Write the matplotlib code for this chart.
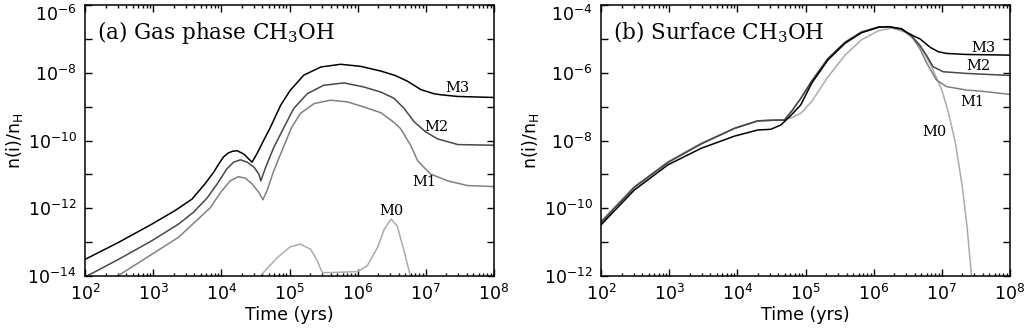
import numpy as np
import matplotlib
matplotlib.use('Agg')
import matplotlib.pyplot as plt
from matplotlib.ticker import FixedLocator, LogLocator, NullFormatter, FuncFormatter

plt.rcParams['font.family'] = 'DejaVu Sans'
plt.rcParams['mathtext.fontset'] = 'dejavusans'

# ---- data: log10(time/yr) and log10(n(i)/n_H) ----
# (a) gas phase CH3OH
gas_m3_t = [2.0, 2.49, 2.98, 3.32, 3.57, 3.76, 3.89, 3.96, 4.03, 4.1, 4.16, 4.23, 4.33, 4.40, 4.45,
            4.52, 4.62, 4.72, 4.87, 5.01, 5.21, 5.46, 5.75, 6.04, 6.34, 6.55, 6.73, 6.93, 7.12, 7.22,
            7.47, 8.0]
gas_m3_n = [-13.51, -13.01, -12.47, -12.07, -11.73, -11.28, -10.93, -10.7, -10.49, -10.37, -10.32,
            -10.30, -10.40, -10.54, -10.64, -10.40, -10.0, -9.61, -8.96, -8.52, -8.07, -7.83, -7.75,
            -7.81, -7.95, -8.08, -8.25, -8.50, -8.62, -8.65, -8.70, -8.73]

gas_m2_t = [2.0, 2.49, 2.98, 3.37, 3.59, 3.79, 3.94, 4.08, 4.18, 4.28, 4.38, 4.48, 4.55, 4.58, 4.65,
            4.77, 4.92, 5.06, 5.26, 5.50, 5.80, 6.09, 6.34, 6.53, 6.68, 6.83, 7.0, 7.17, 7.47, 8.0]
gas_m2_n = [-14.03, -13.51, -12.96, -12.47, -12.12, -11.70, -11.28, -10.84, -10.64, -10.57, -10.64,
            -10.79, -10.99, -11.19, -10.79, -10.20, -9.61, -9.06, -8.62, -8.37, -8.30, -8.42, -8.57,
            -8.75, -9.05, -9.45, -9.75, -9.95, -10.12, -10.14]

gas_m1_t = [2.44, 2.98, 3.37, 3.67, 3.84, 3.99, 4.13, 4.25, 4.35, 4.45, 4.55, 4.61, 4.67, 4.77,
            4.92, 5.03, 5.16, 5.36, 5.60, 5.85, 6.09, 6.34, 6.53, 6.63, 6.78, 6.88, 7.07, 7.32,
            7.61, 8.0]
gas_m1_n = [-14.05, -13.36, -12.86, -12.3, -11.98, -11.53, -11.19, -11.07, -11.11, -11.28, -11.53,
            -11.75, -11.48, -10.89, -10.15, -9.62, -9.2, -8.91, -8.81, -8.86, -9.01, -9.18, -9.46,
            -9.65, -10.15, -10.6, -10.99, -11.19, -11.33, -11.36]

gas_m0_t = [4.57, 4.82, 5.01, 5.16, 5.31, 5.41, 5.48, 5.60, 6.0, 6.14, 6.29, 6.39, 6.49, 6.58, 6.68,
            6.78]
gas_m0_n = [-14.0, -13.46, -13.14, -13.06, -13.21, -13.56, -13.90, -13.90, -13.87, -13.70, -13.16,
            -12.62, -12.32, -12.52, -13.26, -14.05]

# (b) surface CH3OH
srf_m3_t = [2.0, 2.49, 2.98, 3.47, 3.96, 4.30, 4.49, 4.64, 4.79, 4.93, 5.09, 5.33, 5.58, 5.82, 6.07,
            6.22, 6.41, 6.48, 6.61, 6.68, 6.83, 6.95, 7.07, 7.36, 8.0]
srf_m3_n = [-10.49, -9.46, -8.72, -8.23, -7.87, -7.69, -7.67, -7.54, -7.25, -6.95, -6.31, -5.62,
            -5.13, -4.82, -4.66, -4.64, -4.70, -4.80, -4.94, -5.0, -5.25, -5.38, -5.43, -5.46, -5.48]

srf_m2_t = [2.0, 2.49, 2.98, 3.47, 3.96, 4.30, 4.54, 4.69, 4.81, 4.93, 5.09, 5.33, 5.58, 5.82, 6.07,
            6.22, 6.41, 6.55, 6.68, 6.78, 6.87, 7.02, 7.36, 8.0]
srf_m2_n = [-10.42, -9.38, -8.65, -8.10, -7.64, -7.42, -7.40, -7.40, -7.10, -6.76, -6.25, -5.58,
            -5.10, -4.80, -4.65, -4.64, -4.72, -4.90, -5.2, -5.5, -5.82, -5.97, -6.02, -6.08]

srf_m1_t = [2.0, 2.49, 2.98, 3.47, 3.96, 4.30, 4.54, 4.69, 4.81, 4.93, 5.09, 5.33, 5.58, 5.82, 6.07,
            6.22, 6.41, 6.55, 6.68, 6.78, 6.92, 7.07, 7.36, 7.66, 8.0]
srf_m1_n = [-10.42, -9.38, -8.65, -8.10, -7.64, -7.42, -7.40, -7.40, -7.10, -6.76, -6.25, -5.58,
            -5.10, -4.80, -4.65, -4.64, -4.72, -4.90, -5.3, -5.72, -6.21, -6.41, -6.51, -6.56, -6.64]

srf_m0_t = [2.0, 2.49, 2.98, 3.47, 3.96, 4.30, 4.54, 4.69, 4.81, 4.93, 5.09, 5.33, 5.58, 5.82, 6.07,
            6.27, 6.46, 6.66, 6.85, 7.0, 7.1, 7.2, 7.3, 7.37, 7.44]
srf_m0_n = [-10.38, -9.36, -8.63, -8.08, -7.64, -7.42, -7.40, -7.38, -7.32, -7.20, -6.85, -6.12,
            -5.48, -5.03, -4.76, -4.68, -4.80, -5.13, -5.82, -6.51, -7.2, -8.08, -9.36, -10.55, -12.1]

model_names = ['M3', 'M2', 'M1', 'M0']
colors = ['#000000', '#484848', '#808080', '#ababab']

gas_label_pos = [(7.47, -8.44), (7.15, -9.59), (6.98, -11.23), (6.50, -12.09)]
srf_label_pos = [(7.61, -5.28), (7.54, -5.80), (7.45, -6.85), (6.89, -7.74)]

panels = [
    dict(title='(a) Gas phase CH$_3$OH', ylim=(-14, -6),
         series=[(gas_m3_t, gas_m3_n), (gas_m2_t, gas_m2_n), (gas_m1_t, gas_m1_n), (gas_m0_t, gas_m0_n)],
         labels=gas_label_pos, left=85),
    dict(title='(b) Surface CH$_3$OH', ylim=(-12, -4),
         series=[(srf_m3_t, srf_m3_n), (srf_m2_t, srf_m2_n), (srf_m1_t, srf_m1_n), (srf_m0_t, srf_m0_n)],
         labels=srf_label_pos, left=601),
]

W, H = 1025, 330
fig = plt.figure(figsize=(W / 100, H / 100), dpi=100)


def fmt(v, pos):
    e = int(round(np.log10(v)))
    return r'$10^{%d}$' % e


for p in panels:
    ax = fig.add_axes([p['left'] / W, 54 / H, 409 / W, 271 / H])
    # draw lightest first so the dark curves sit on top
    for (t, n), c in reversed(list(zip(p['series'], colors))):
        ax.plot(10 ** np.array(t), 10 ** np.array(n), color=c, lw=1.1,
                solid_joinstyle='round')
    for (lx, ly), name in zip(p['labels'], model_names):
        ax.text(10 ** lx, 10 ** ly, name, family='DejaVu Serif', fontsize=10.5,
                ha='center', va='center')
    ax.set_xscale('log')
    ax.set_yscale('log')
    ax.set_xlim(1e2, 1e8)
    lo, hi = p['ylim']
    ax.set_ylim(10.0 ** lo, 10.0 ** hi)

    ax.xaxis.set_major_locator(FixedLocator([10.0 ** k for k in range(2, 9)]))
    ax.xaxis.set_minor_locator(LogLocator(base=10, subs=np.arange(2, 10), numticks=20))
    ax.xaxis.set_major_formatter(FuncFormatter(fmt))
    ax.xaxis.set_minor_formatter(NullFormatter())
    ax.yaxis.set_major_locator(FixedLocator([10.0 ** k for k in range(lo, hi + 1, 2)]))
    ax.yaxis.set_minor_locator(FixedLocator([10.0 ** k for k in range(lo + 1, hi, 2)]))
    ax.yaxis.set_major_formatter(FuncFormatter(fmt))
    ax.yaxis.set_minor_formatter(NullFormatter())

    ax.tick_params(which='both', direction='in', top=True, right=True, labelsize=12.5, width=1)
    ax.tick_params(which='major', length=5, pad=6)
    ax.tick_params(axis='x', which='minor', length=2.5)
    ax.tick_params(axis='y', which='minor', length=5)
    for s in ax.spines.values():
        s.set_linewidth(1.1)

    # keep the top y label inside the figure
    ax.yaxis.get_major_ticks()[-1].label1.set_verticalalignment('top')

    ax.set_xlabel('Time (yrs)', fontsize=12.5, labelpad=1)
    ax.set_ylabel('n(i)/n$_{\\rm H}$', fontsize=12.5, labelpad=2)
    ax.text(0.03, 0.90, p['title'], transform=ax.transAxes, family='DejaVu Serif',
            math_fontfamily='dejavuserif', fontsize=15.5, ha='left', va='center')

fig.savefig('out.png', dpi=100)
